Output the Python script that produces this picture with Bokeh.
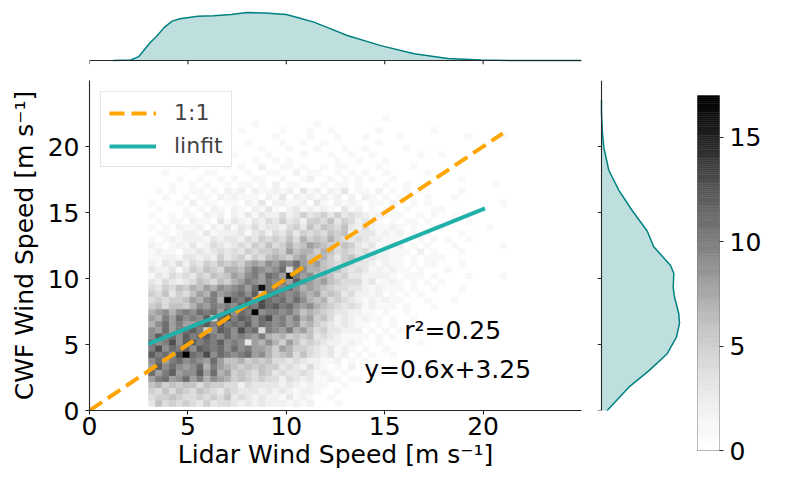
import math
import numpy as np
from bokeh.plotting import figure
from bokeh.layouts import column, row
from bokeh.models import (Range1d, FixedTicker, ColumnDataSource, LinearColorMapper,
                          Legend, LegendItem, Spacer, Label)
from bokeh.transform import transform
from bokeh.core.properties import value
from bokeh.embed import file_html
from bokeh.resources import INLINE

FONT = "DejaVu Sans"
SPINE = "#262626"
KDE_LINE = "#008080"
FIT_COLOR = "#20b2aa"
ONE_COLOR = "#ffa500"

# ---------------------------------------------------------------- data
axis_min, axis_max = 0, 25
axis_ticks = [0, 5, 10, 15, 20]
cbar_ticks = [0, 5, 10, 15]
count_max = 17

# 2-D histogram, lidar speed (x) vs CWF speed (y)
hist_x0, hist_dx = 3.0, 0.35
hist_y0, hist_dy = 0.3, 0.46
# one string per CWF bin, top row first; base-36 digits (a=10 ... h=17)
hist_rows = [
    "000000 000000 000000 000000 000000 000010 000000 000000 0000",
    "000000 000000 000100 000000 100000 000000 000000 000000 0000",
    "000000 000000 010000 010001 001000 000100 000001 000000 0000",
    "000000 000010 000000 100001 000100 010000 100000 000010 0001",
    "000000 000000 001000 010010 010000 000100 000000 000000 0000",
    "000000 001000 000010 001000 100010 010000 010000 000000 0000",
    "000000 000100 100001 000010 001001 001000 000100 100000 0000",
    "000000 010000 000100 101000 000100 100010 000000 000000 0000",
    "000000 100001 010020 011010 010110 000100 001000 000000 0000",
    "001000 001100 001001 100201 100101 010010 000010 000000 0000",
    "000010 010010 100110 010012 001010 101001 000000 000100 0000",
    "000100 101001 011010 201100 010110 100010 010000 000000 0010",
    "010100 110102 120211 212031 202130 110201 010100 000100 0000",
    "001001 011021 211102 130212 121202 021010 100010 001000 0000",
    "100010 201101 102130 221120 310212 101102 001010 000000 0001",
    "010001 010210 210213 102312 121031 201011 010001 100000 0000",
    "100101 102120 213132 242353 453534 321211 100101 001000 0000",
    "010110 211031 321324 353425 546354 232101 011010 000010 0000",
    "101021 120213 132423 324536 465463 242112 101001 100000 0100",
    "011012 213122 231342 435354 546562 333121 201010 000100 0000",
    "101212 221323 324354 546475 657543 432211 110101 010010 0000",
    "210121 312432 343546 457568 765465 323112 201010 001000 0001",
    "121102 232343 435455 658677 576454 342121 110201 000100 0000",
    "112213 323253 453546 765786 675356 423221 101011 100000 0000",
    "213242 435465 657879 8a9b87 865454 332121 101011 000100 0000",
    "322313 546547 768a98 9b4a97 765643 431212 110100 010000 0000",
    "132434 354656 879a8b a8ga89 676453 322221 011101 000010 0001",
    "324323 465465 78a98a 9a8c98 786544 423112 101010 100000 0000",
    "435465 768798 9a8bga a9b978 765443 321211 101001 000100 0000",
    "546354 687a89 ab9c5b ba9a87 856534 221201 010100 000000 0000",
    "454556 879a7h bac9db ab9b97 674543 212121 100010 001000 0000",
    "564665 798a9a 9cbadb cab989 765434 312111 010001 000000 0000",
    "78979a 9bab8c 9bah9a a9a867 654332 211010 010000 000000 0000",
    "87a8b9 a9c4bd acb9bd 9a8a78 564232 121101 001000 000000 0000",
    "79b8a8 8bcaca bac9ba 9a8967 543232 110101 000100 000000 0000",
    "98b8ab ca59cb 9dab4a 98a786 453322 201010 100000 001000 0000",
    "9cab9c abca9b 9a98a7 675656 343211 110101 000000 000000 0000",
    "b9ad9c cabac9 a93879 758645 432212 100100 000100 000000 0000",
    "ad9bac 9cbab9 b9a887 587554 323121 010010 000000 000000 0000",
    "cab9dh bad9ba 9ab897 567464 323120 101001 000000 000000 0000",
    "9b8ab9 a98b86 675656 443432 211201 010000 000000 000000 0000",
    "8c9b98 9b7a87 656565 534324 210102 001001 000000 000000 0000",
    "b8ac89 9c8b78 565465 343343 121010 000100 000000 000000 0000",
    "8ab89b 8a7987 565454 424323 112101 100000 000000 000000 0000",
    "675656 646554 424333 323212 110010 000000 000000 000000 0000",
    "546465 465435 433323 232122 100100 000000 000000 000000 0000",
    "455654 454546 343232 213121 001000 000000 000000 000000 0000",
    "364545 435344 323232 221212 000100 000000 000000 000000 0000",
]

# reference line and least-squares fit
one_to_one = [0.0, 21.0]
fit_slope, fit_intercept = 0.6, 3.25
fit_x = [3.0, 20.1]
r_squared = 0.25

# marginal kernel density estimates
kde_lidar_x = [1.2, 2.1, 2.5, 2.9, 3.1, 3.4, 3.8, 4.2, 4.6, 5.5, 6.3, 7.2, 8.0,
               8.9, 10.0, 10.7, 11.4, 12.2, 13.1, 14.8, 16.5, 18.2, 19.9, 21.6, 25.0]
kde_lidar_density = [0.0, 0.001, 0.008, 0.028, 0.038, 0.050, 0.069, 0.082, 0.087,
                     0.092, 0.093, 0.096, 0.100, 0.099, 0.096, 0.088, 0.080, 0.067,
                     0.052, 0.031, 0.014, 0.004, 0.001, 0.0, 0.0]
kde_cwf_y = [-0.6, 0.0, 1.77, 3.0, 4.3, 5.55, 6.6, 7.35, 8.6, 9.3, 10.4, 11.0,
             12.4, 13.6, 15.15, 16.7, 18.2, 19.95, 21.0, 22.5, 23.5]
kde_cwf_density = [0.0, 0.0062, 0.0296, 0.0512, 0.0712, 0.0812, 0.0845, 0.0837,
                   0.0791, 0.0777, 0.0783, 0.0747, 0.0566, 0.0495, 0.0332, 0.0187,
                   0.0079, 0.0025, 0.0011, 0.0, 0.0]

# ---------------------------------------------------------------- colours
greys_anchor = ["#ffffff", "#f0f0f0", "#d9d9d9", "#bdbdbd", "#969696",
                "#737373", "#525252", "#252525", "#000000"]
anchor_levels = np.array([int(c[1:3], 16) for c in greys_anchor], dtype=float)
ramp = np.interp(np.linspace(0, 1, 256), np.linspace(0, 1, len(greys_anchor)), anchor_levels)
greys = []
for g in ramp:
    level = int(round(g))
    greys.append("#%02x%02x%02x" % (level, level, level))
mapper = LinearColorMapper(palette=greys, low=0, high=count_max)

# ---------------------------------------------------------------- histogram cells
cells = dict(left=[], right=[], bottom=[], top=[], count=[])
n_rows = len(hist_rows)
for i, line in enumerate(hist_rows):
    r = n_rows - 1 - i
    for c, ch in enumerate("".join(line.split())):
        n = int(ch, 36)
        if n == 0:
            continue
        cells["left"].append(hist_x0 + c * hist_dx)
        cells["right"].append(hist_x0 + (c + 1) * hist_dx)
        cells["bottom"].append(hist_y0 + r * hist_dy)
        cells["top"].append(hist_y0 + (r + 1) * hist_dy)
        cells["count"].append(n)
hist_src = ColumnDataSource(cells)


def style_axis(ax, ticks, size="25px"):
    ax.ticker = FixedTicker(ticks=ticks)
    ax.axis_line_color = SPINE
    ax.axis_line_width = 1.1
    ax.major_tick_line_color = SPINE
    ax.major_tick_line_width = 1.1
    ax.major_tick_out = 4
    ax.major_tick_in = 0
    ax.minor_tick_line_color = None
    ax.major_label_text_font = FONT
    ax.major_label_text_color = "black"
    ax.major_label_text_font_size = size
    ax.axis_label_text_font = FONT
    ax.axis_label_text_font_size = size
    ax.axis_label_text_font_style = "normal"
    ax.axis_label_text_color = "black"


common = dict(output_backend="svg", toolbar_location=None)

# ---------------------------------------------------------------- joint panel
main = figure(width=590, height=408, x_range=Range1d(axis_min, axis_max),
              y_range=Range1d(axis_min, axis_max),
              min_border_left=89, min_border_right=9, min_border_top=10,
              min_border_bottom=68, **common)
main.outline_line_color = None
main.xgrid.visible = False
main.ygrid.visible = False

main.quad(left="left", right="right", bottom="bottom", top="top", source=hist_src,
          fill_color=transform("count", mapper), line_color=transform("count", mapper),
          line_width=0.5)

r_one = main.line(one_to_one, one_to_one, line_color=ONE_COLOR, line_width=4,
                  line_dash="15 7")
fit_y = [fit_slope * x + fit_intercept for x in fit_x]
r_fit = main.line(fit_x, fit_y, line_color=FIT_COLOR, line_width=4)

main.text(x=[18.45], y=[6.05], text=[f"r\u00b2={r_squared:.2f}"],
          text_font=value(FONT), text_font_size="25px", text_color="black",
          text_align="center", text_baseline="alphabetic")
main.text(x=[18.2], y=[3.1], text=[f"y={fit_slope:g}x+{fit_intercept:g}"],
          text_font=value(FONT), text_font_size="25px", text_color="black",
          text_align="center", text_baseline="alphabetic")

legend = Legend(items=[LegendItem(label="1:1", renderers=[r_one]),
                       LegendItem(label="linfit", renderers=[r_fit])],
                location="top_left", margin=11, padding=8, spacing=8,
                glyph_width=47, glyph_height=24, label_height=24, label_standoff=18,
                label_text_font=FONT, label_text_font_size="22px",
                border_line_color="#cccccc", border_line_width=1,
                background_fill_color="white", background_fill_alpha=0.8)
main.add_layout(legend)

style_axis(main.xaxis[0], axis_ticks)
style_axis(main.yaxis[0], axis_ticks)
main.xaxis[0].axis_label = "Lidar Wind Speed [m s\u207b\u00b9]"
main.yaxis[0].axis_label = "CWF Wind Speed [m s\u207b\u00b9]"
main.xaxis[0].major_label_standoff = 2
main.xaxis[0].axis_label_standoff = 2
main.yaxis[0].major_label_standoff = 6
main.yaxis[0].axis_label_standoff = 6

# ---------------------------------------------------------------- top marginal
# frame reaches 4 px below the density baseline so the spine ticks stay visible
top_px_per_unit = 480.0
top_tick = 4 / top_px_per_unit
top = figure(width=590, height=70, x_range=main.x_range,
             y_range=Range1d(-top_tick, 56 / top_px_per_unit),
             min_border_left=89, min_border_right=9, min_border_top=4,
             min_border_bottom=6, **common)
top.outline_line_color = None
top.grid.visible = False
top.xaxis.visible = False
top.yaxis.visible = False
top.varea(x=kde_lidar_x, y1=[0.0] * len(kde_lidar_x), y2=kde_lidar_density,
          fill_color=KDE_LINE, fill_alpha=0.25)
top.line(kde_lidar_x, kde_lidar_density, line_color=KDE_LINE, line_width=1.5)
top.segment(x0=[axis_min], y0=[0], x1=[axis_max], y1=[0], line_color=SPINE, line_width=1.1)
top.segment(x0=axis_ticks, y0=[0] * len(axis_ticks), x1=axis_ticks,
            y1=[-top_tick] * len(axis_ticks), line_color=SPINE, line_width=1.1)

# ---------------------------------------------------------------- right marginal
side_px_per_unit = 923.0
side_tick = 4 / side_px_per_unit
side = figure(width=95, height=408, x_range=Range1d(-side_tick, 84 / side_px_per_unit),
              y_range=main.y_range, min_border_left=7, min_border_right=0,
              min_border_top=10, min_border_bottom=68, **common)
side.outline_line_color = None
side.grid.visible = False
side.xaxis.visible = False
side.yaxis.visible = False
side.harea(y=kde_cwf_y, x1=[0.0] * len(kde_cwf_y), x2=kde_cwf_density,
           fill_color=KDE_LINE, fill_alpha=0.25)
side.line(kde_cwf_density, kde_cwf_y, line_color=KDE_LINE, line_width=1.5)
side.segment(x0=[0], y0=[axis_min], x1=[0], y1=[axis_max], line_color=SPINE, line_width=1.1)
side.segment(x0=[-side_tick] * len(axis_ticks), y0=axis_ticks,
             x1=[0] * len(axis_ticks), y1=axis_ticks, line_color=SPINE, line_width=1.1)

# ---------------------------------------------------------------- colour bar
cbar = figure(width=102, height=478, x_range=Range1d(0, 1), y_range=Range1d(0, count_max),
              y_axis_location="right", min_border_left=12, min_border_right=68,
              min_border_top=95, min_border_bottom=28, **common)
cbar.grid.visible = False
cbar.xaxis.visible = False
cbar.outline_line_color = "#808080"
cbar.outline_line_width = 1
levels = np.linspace(0, count_max, 171)
ramp_src = ColumnDataSource(dict(bottom=levels[:-1], top=levels[1:],
                                 mid=(levels[:-1] + levels[1:]) / 2))
cbar.quad(left=0, right=1, bottom="bottom", top="top", source=ramp_src,
          fill_color=transform("mid", mapper), line_color=transform("mid", mapper),
          line_width=0.5)
style_axis(cbar.yaxis[0], cbar_ticks)
cbar.yaxis[0].axis_line_color = None
cbar.yaxis[0].major_label_standoff = 6
cbar.add_layout(Label(x=3.36, y=8.5, text="count", angle=math.pi / 2,
                      text_font=FONT, text_font_size="24px", text_color="black",
                      text_align="center", text_baseline="middle"))

layout = row(column(row(top, Spacer(width=95, height=70)), row(main, side)), cbar)

open("out.html", "w").write(file_html(layout, INLINE))
